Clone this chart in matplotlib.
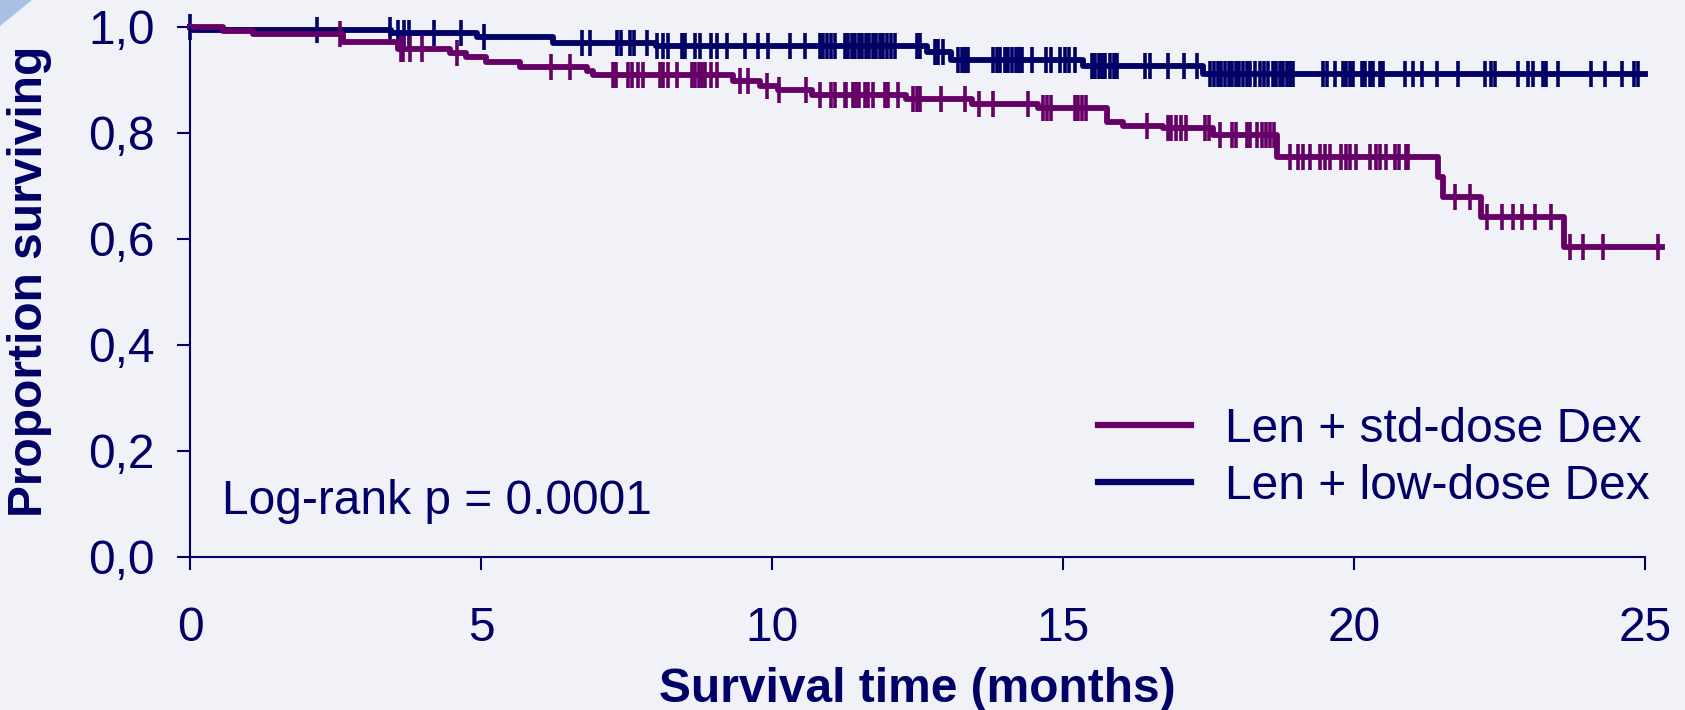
import numpy as np
import matplotlib
matplotlib.use("Agg")
import matplotlib.pyplot as plt
from matplotlib.lines import Line2D
from matplotlib.patches import Polygon

NAVY = "#000066"
PURPLE = "#660066"
BG = "#f1f2f8"

# Len + low-dose Dex: step times (months) and survival after each step
low_step_t = [0, 0.05, 3.45, 4.93, 6.24, 8.0, 12.66, 13.08, 15.35, 17.4]
low_step_s = [1.0, 0.994, 0.988, 0.980, 0.969, 0.964, 0.952, 0.937, 0.927, 0.912]
low_end = 25.0
low_censor = [0, 2.18, 3.44, 3.57, 3.67, 3.77, 4.19, 4.66, 5.05, 6.73, 6.87, 7.33, 7.40,
              7.56, 7.63, 7.85, 8.02, 8.13, 8.21, 8.45, 8.50, 8.68, 8.76, 8.96, 9.05, 9.22,
              9.54, 9.76, 9.93, 10.31, 10.57, 10.82, 10.88, 10.94, 11.02, 11.08, 11.25,
              11.31, 11.37, 11.43, 11.49, 11.55, 11.61, 11.67, 11.73, 11.79, 11.85, 11.91,
              11.98, 12.04, 12.11, 12.49, 12.54, 12.80, 12.86, 12.93, 13.20, 13.26, 13.31,
              13.37, 13.80, 13.86, 13.92, 14.00, 14.06, 14.12, 14.20, 14.25, 14.30, 14.46,
              14.71, 14.80, 14.95, 15.03, 15.11, 15.20, 15.49, 15.55, 15.62, 15.67, 15.73,
              15.80, 15.87, 15.93, 16.41, 16.50, 16.80, 17.08, 17.30, 17.53, 17.60, 17.66,
              17.72, 17.78, 17.85, 17.91, 17.97, 18.03, 18.10, 18.16, 18.22, 18.30, 18.38,
              18.45, 18.52, 18.60, 18.66, 18.72, 18.78, 18.85, 18.90, 18.96, 19.47, 19.53,
              19.67, 19.81, 19.87, 19.93, 19.98, 20.13, 20.19, 20.27, 20.33, 20.45, 20.50,
              20.88, 21.01, 21.16, 21.42, 21.79, 22.25, 22.36, 22.42, 22.82, 22.99, 23.08,
              23.25, 23.30, 23.50, 24.07, 24.31, 24.61, 24.81, 24.88]

# Len + std-dose Dex
std_step_t = [0, 0.57, 1.09, 2.63, 3.58, 4.47, 4.74, 5.08, 5.67, 6.82, 6.93, 9.33, 9.8,
              10.1, 10.68, 12.3, 13.43, 14.57, 15.75, 16.03, 16.72, 17.58, 18.67, 21.45,
              21.53, 22.19, 23.6]
std_step_s = [1.0, 0.992, 0.987, 0.971, 0.958, 0.950, 0.943, 0.934, 0.925, 0.917, 0.909,
              0.898, 0.888, 0.881, 0.871, 0.863, 0.854, 0.846, 0.821, 0.813, 0.809, 0.796,
              0.755, 0.717, 0.679, 0.642, 0.585]
std_end = 25.3
std_censor = [2.58, 3.62, 3.66, 3.78, 3.98, 4.58, 6.21, 6.53, 7.27, 7.32, 7.53, 7.59, 7.70,
              7.79, 8.08, 8.13, 8.22, 8.36, 8.62, 8.68, 8.74, 8.79, 8.85, 8.96, 9.05, 9.45,
              9.59, 9.92, 10.12, 10.58, 10.82, 11.02, 11.08, 11.25, 11.27, 11.39, 11.45,
              11.50, 11.60, 11.65, 11.73, 11.94, 11.99, 12.17, 12.43, 12.49, 12.54, 12.91,
              13.31, 13.56, 13.80, 14.40, 14.66, 14.72, 14.80, 15.20, 15.26, 15.33, 15.40,
              16.44, 16.81, 16.86, 16.95, 17.03, 17.12, 17.44, 17.51, 17.70, 17.90, 17.98,
              18.16, 18.21, 18.33, 18.42, 18.48, 18.56, 18.62, 18.90, 19.04, 19.13, 19.24,
              19.41, 19.50, 19.58, 19.78, 19.87, 19.93, 20.04, 20.27, 20.37, 20.44, 20.55,
              20.71, 20.77, 20.90, 20.93, 21.74, 21.99, 22.28, 22.54, 22.74, 22.88, 23.11,
              23.39, 23.71, 23.94, 24.28, 25.22]

x_ticks = [0, 5, 10, 15, 20, 25]
y_ticks = [0.0, 0.2, 0.4, 0.6, 0.8, 1.0]
y_ticklabels = ["0,0", "0,2", "0,4", "0,6", "0,8", "1,0"]
labels = ["Len + std-dose Dex", "Len + low-dose Dex"]

FS = 34.5


def draw_km(ax, step_t, step_s, end, censor, color):
    t = list(step_t) + [end]
    s = list(step_s) + [step_s[-1]]
    ax.step(t, s, where="post", color=color, lw=4.2, clip_on=False, solid_joinstyle="round")
    idx = np.searchsorted(step_t, censor, side="right") - 1
    ax.plot(censor, np.array(step_s)[idx], ls="none", marker="|", ms=19, mew=2.6,
            color=color, clip_on=False)


plt.rcParams["font.family"] = ["Liberation Sans", "DejaVu Sans"]

fig = plt.figure(figsize=(16.85, 7.1), dpi=100)
fig.patch.set_facecolor(BG)
fig.patches.append(Polygon([(0, 1), (32 / 1685, 1), (0, 1 - 26 / 710)], closed=True,
                           transform=fig.transFigure, facecolor="#a8c0e4", edgecolor="none"))

ax = fig.add_axes([190 / 1685, 153.4 / 710, 1455 / 1685, 529.7 / 710])
ax.set_facecolor(BG)

draw_km(ax, low_step_t, low_step_s, low_end, low_censor, NAVY)
draw_km(ax, std_step_t, std_step_s, std_end, std_censor, PURPLE)

ax.set_xlim(0, 25)
ax.set_ylim(0, 1.0)
ax.set_xticks(x_ticks)
ax.set_yticks(y_ticks)
ax.set_yticklabels(y_ticklabels)
for side in ["top", "right"]:
    ax.spines[side].set_visible(False)
for side in ["left", "bottom"]:
    ax.spines[side].set_color(NAVY)
    ax.spines[side].set_linewidth(1.5)
ax.tick_params(direction="out", length=9.5, width=1.5, color=NAVY, labelcolor=NAVY,
               labelsize=FS)
ax.tick_params(axis="y", pad=16)
ax.tick_params(axis="x", pad=26)

ax.set_xlabel("Survival time (months)", fontsize=FS, fontweight="bold", color=NAVY)
ax.xaxis.set_label_coords(0.5, -0.208, transform=ax.transAxes)
ax.xaxis.label.set_va("top")
ax.set_ylabel("Proportion surviving", fontsize=FS, fontweight="bold", color=NAVY)
ax.yaxis.set_label_coords(-0.0948, 0.52)

ax.text(0.022, 0.0804, "Log-rank p = 0.0001", transform=ax.transAxes, fontsize=FS,
        color=NAVY, va="baseline", ha="left")

handles = [Line2D([], [], color=PURPLE, lw=4.5), Line2D([], [], color=NAVY, lw=4.5)]
leg = fig.legend(handles, labels, loc="center left", bbox_to_anchor=(1098 / 1685, 1 - 458 / 710),
                 frameon=False, fontsize=FS, handlelength=1.94, handletextpad=0.7,
                 labelspacing=0.26, borderpad=0, borderaxespad=0)
for txt in leg.get_texts():
    txt.set_color(NAVY)

fig.savefig("out.png", dpi=100, facecolor=BG)
